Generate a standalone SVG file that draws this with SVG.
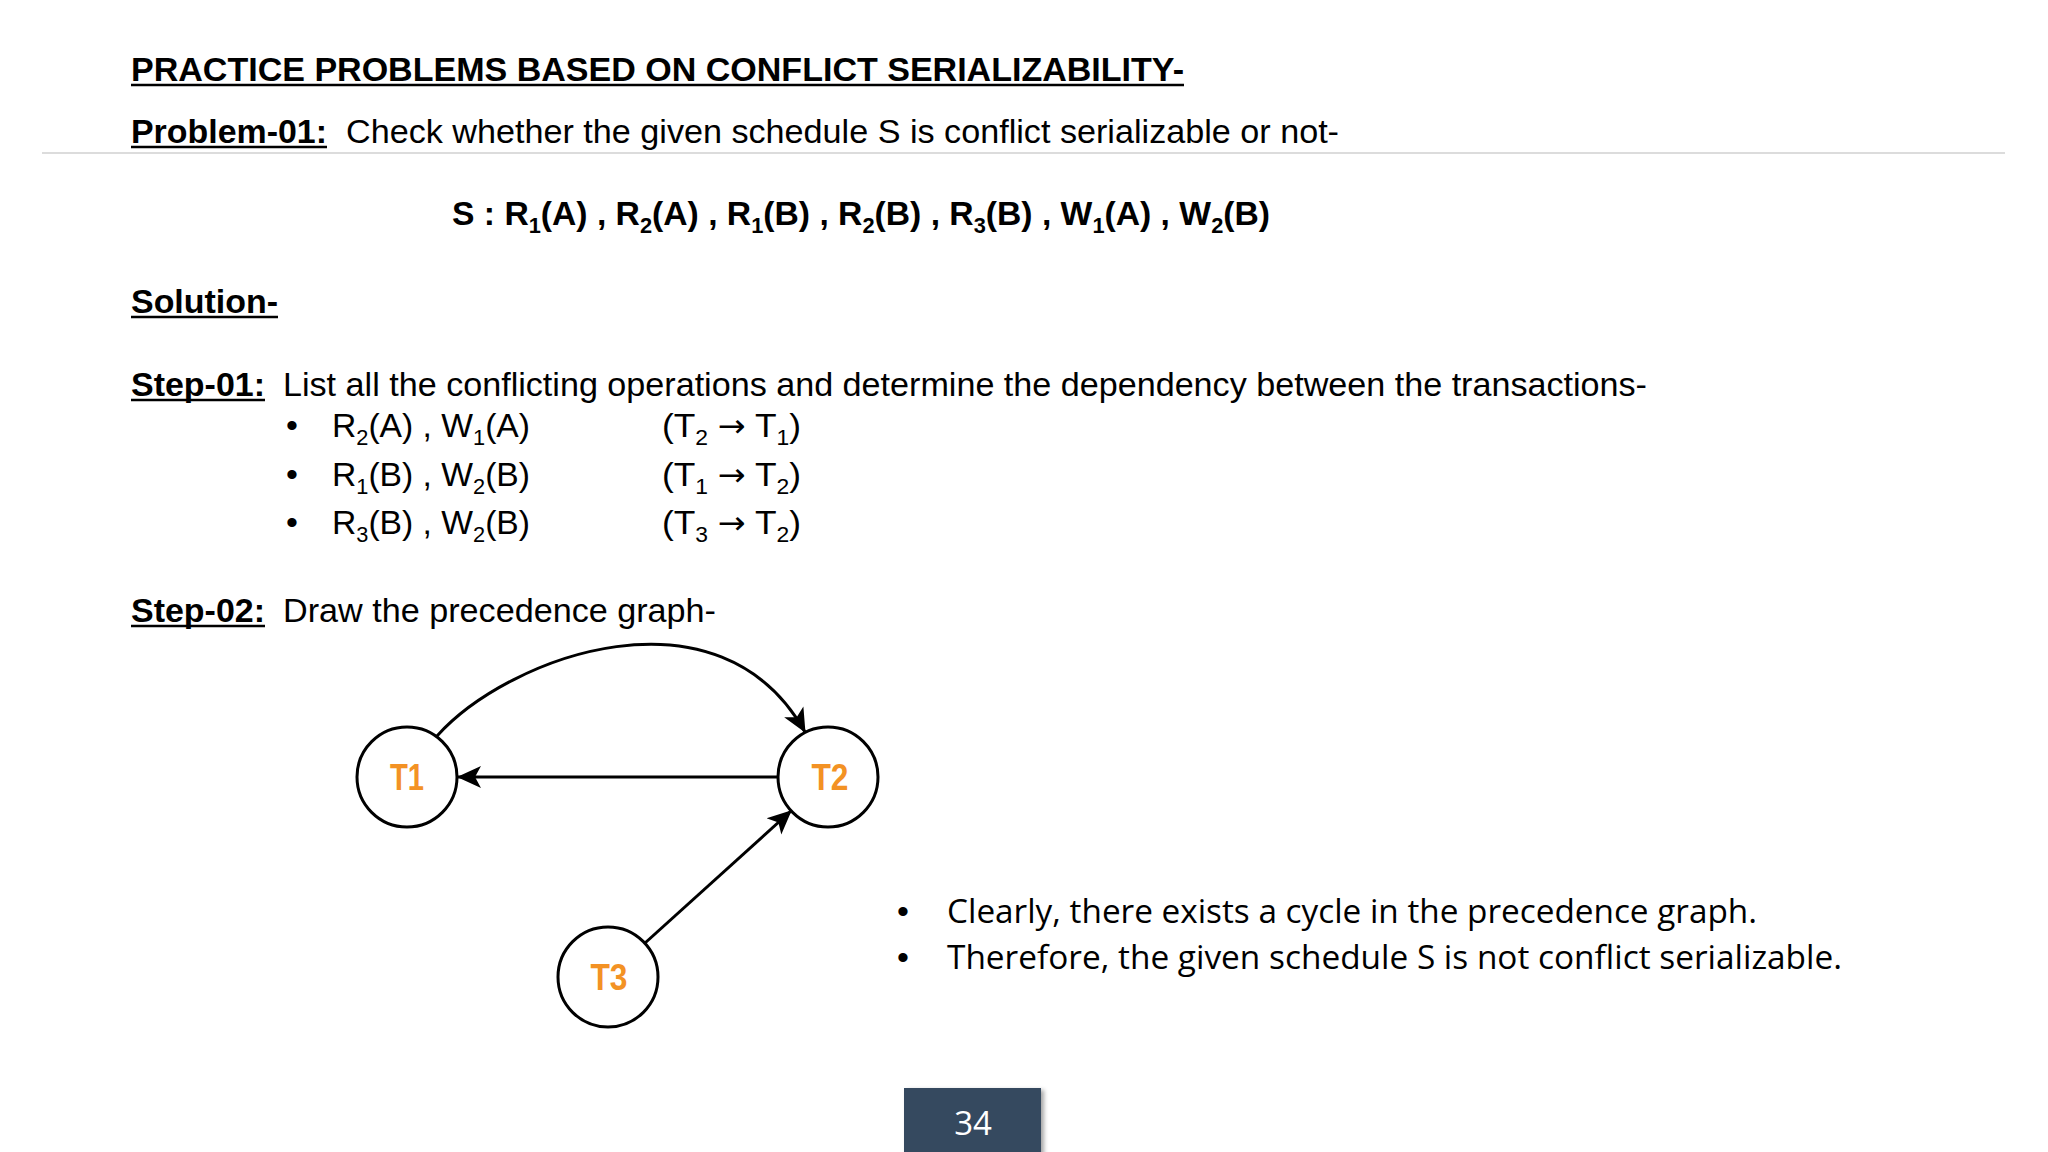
<svg xmlns="http://www.w3.org/2000/svg" width="2048" height="1152" viewBox="0 0 2048 1152">
<style>
.t{font-family:"Liberation Sans",Arial,sans-serif;font-size:34px;fill:#000}
.b{font-weight:bold}
.c{font-family:"Open Sans","Noto Sans",sans-serif;font-size:33px;fill:#000}
.ar{font-family:"DejaVu Sans",sans-serif;font-size:32px}
.ul{stroke:#000;stroke-width:2.5}
.sub{font-size:22px}
.node circle{fill:#fff;stroke:#000;stroke-width:3}
.node text{font-family:"Liberation Sans",Arial,sans-serif;font-size:36px;font-weight:bold;fill:#F39224;text-anchor:middle}
.edge{fill:none;stroke:#000;stroke-width:3;marker-end:url(#arr)}
</style>
<defs>
<marker id="arr" markerUnits="userSpaceOnUse" markerWidth="24" markerHeight="24" viewBox="0 0 24 24" refX="23" refY="12" orient="auto">
<path d="M24,12 L0,1 L6,12 L0,23 Z" fill="#000"/>
</marker>
<filter id="sh" x="-10%" y="-10%" width="130%" height="130%">
<feDropShadow dx="3" dy="2" stdDeviation="2" flood-color="#000" flood-opacity="0.35"/>
</filter>
</defs>
<rect width="2048" height="1152" fill="#fff"/>

<g id="title">
<text class="t b" x="131" y="81" textLength="1053" lengthAdjust="spacingAndGlyphs">PRACTICE PROBLEMS BASED ON CONFLICT SERIALIZABILITY-</text>
<line class="ul" x1="131" y1="85" x2="1184" y2="85"/>
</g>
<line x1="42" y1="153" x2="2005" y2="153" stroke="#dcdcdc" stroke-width="2"/>

<g id="problem">
<text class="t b" x="131" y="143" textLength="196" lengthAdjust="spacingAndGlyphs">Problem-01:</text>
<line class="ul" x1="131" y1="147" x2="327" y2="147"/>
<text class="t" x="346" y="143" textLength="993" lengthAdjust="spacingAndGlyphs">Check whether the given schedule S is conflict serializable or not-</text>
</g>

<g id="schedule">
<text class="t b" x="452" y="225" textLength="818" lengthAdjust="spacingAndGlyphs">S : R<tspan class="sub" dy="8">1</tspan><tspan dy="-8">(A) , R</tspan><tspan class="sub" dy="8">2</tspan><tspan dy="-8">(A) , R</tspan><tspan class="sub" dy="8">1</tspan><tspan dy="-8">(B) , R</tspan><tspan class="sub" dy="8">2</tspan><tspan dy="-8">(B) , R</tspan><tspan class="sub" dy="8">3</tspan><tspan dy="-8">(B) , W</tspan><tspan class="sub" dy="8">1</tspan><tspan dy="-8">(A) , W</tspan><tspan class="sub" dy="8">2</tspan><tspan dy="-8">(B)</tspan></text>
</g>

<g id="solution">
<text class="t b" x="131" y="313" textLength="147" lengthAdjust="spacingAndGlyphs">Solution-</text>
<line class="ul" x1="131" y1="317" x2="278" y2="317"/>
</g>

<g id="step1">
<text class="t b" x="131" y="396" textLength="134" lengthAdjust="spacingAndGlyphs">Step-01:</text>
<line class="ul" x1="131" y1="400" x2="265" y2="400"/>
<text class="t" x="283" y="396" textLength="1364" lengthAdjust="spacingAndGlyphs">List all the conflicting operations and determine the dependency between the transactions-</text>
<text class="t" x="286" y="437">•</text>
<text class="t" x="332" y="437" textLength="198" lengthAdjust="spacingAndGlyphs">R<tspan class="sub" dy="8">2</tspan><tspan dy="-8">(A) , W</tspan><tspan class="sub" dy="8">1</tspan><tspan dy="-8">(A)</tspan></text>
<text class="t" x="662" y="437" textLength="139" lengthAdjust="spacingAndGlyphs">(T<tspan class="sub" dy="8">2</tspan><tspan dy="-8"> </tspan><tspan class="ar">→</tspan><tspan> T</tspan><tspan class="sub" dy="8">1</tspan><tspan dy="-8">)</tspan></text>
<text class="t" x="286" y="486">•</text>
<text class="t" x="332" y="486" textLength="198" lengthAdjust="spacingAndGlyphs">R<tspan class="sub" dy="8">1</tspan><tspan dy="-8">(B) , W</tspan><tspan class="sub" dy="8">2</tspan><tspan dy="-8">(B)</tspan></text>
<text class="t" x="662" y="486" textLength="139" lengthAdjust="spacingAndGlyphs">(T<tspan class="sub" dy="8">1</tspan><tspan dy="-8"> </tspan><tspan class="ar">→</tspan><tspan> T</tspan><tspan class="sub" dy="8">2</tspan><tspan dy="-8">)</tspan></text>
<text class="t" x="286" y="534">•</text>
<text class="t" x="332" y="534" textLength="198" lengthAdjust="spacingAndGlyphs">R<tspan class="sub" dy="8">3</tspan><tspan dy="-8">(B) , W</tspan><tspan class="sub" dy="8">2</tspan><tspan dy="-8">(B)</tspan></text>
<text class="t" x="662" y="534" textLength="139" lengthAdjust="spacingAndGlyphs">(T<tspan class="sub" dy="8">3</tspan><tspan dy="-8"> </tspan><tspan class="ar">→</tspan><tspan> T</tspan><tspan class="sub" dy="8">2</tspan><tspan dy="-8">)</tspan></text>
</g>

<g id="step2">
<text class="t b" x="131" y="622" textLength="134" lengthAdjust="spacingAndGlyphs">Step-02:</text>
<line class="ul" x1="131" y1="626" x2="265" y2="626"/>
<text class="t" x="283" y="622" textLength="433" lengthAdjust="spacingAndGlyphs">Draw the precedence graph-</text>
</g>

<g id="connectors">
<path class="edge" d="M778,777 L458,777"/>
<path class="edge" d="M437,736 C510,655 720,580 805,732"/>
<path class="edge" d="M645,943 L791,811"/>
</g>

<g id="T1" class="node">
<circle cx="407" cy="777" r="50"/>
<text x="407" y="790" textLength="34" lengthAdjust="spacingAndGlyphs">T1</text>
</g>
<g id="T2" class="node">
<circle cx="828" cy="777" r="50"/>
<text x="830" y="790" textLength="37" lengthAdjust="spacingAndGlyphs">T2</text>
</g>
<g id="T3" class="node">
<circle cx="608" cy="977" r="50"/>
<text x="609" y="990" textLength="37" lengthAdjust="spacingAndGlyphs">T3</text>
</g>

<g id="conclusion">
<text class="t" x="897" y="923">•</text>
<text class="c" x="947" y="923" textLength="810" lengthAdjust="spacingAndGlyphs">Clearly, there exists a cycle in the precedence graph.</text>
<text class="t" x="897" y="969">•</text>
<text class="c" x="947" y="969" textLength="895" lengthAdjust="spacingAndGlyphs">Therefore, the given schedule S is not conflict serializable.</text>
</g>

<g id="pagenum">
<rect x="904" y="1088" width="137" height="70" fill="#34495E" filter="url(#sh)"/>
<text x="973" y="1135" font-family="Open Sans, Noto Sans, sans-serif" font-size="33" fill="#fff" text-anchor="middle">34</text>
</g>
</svg>
